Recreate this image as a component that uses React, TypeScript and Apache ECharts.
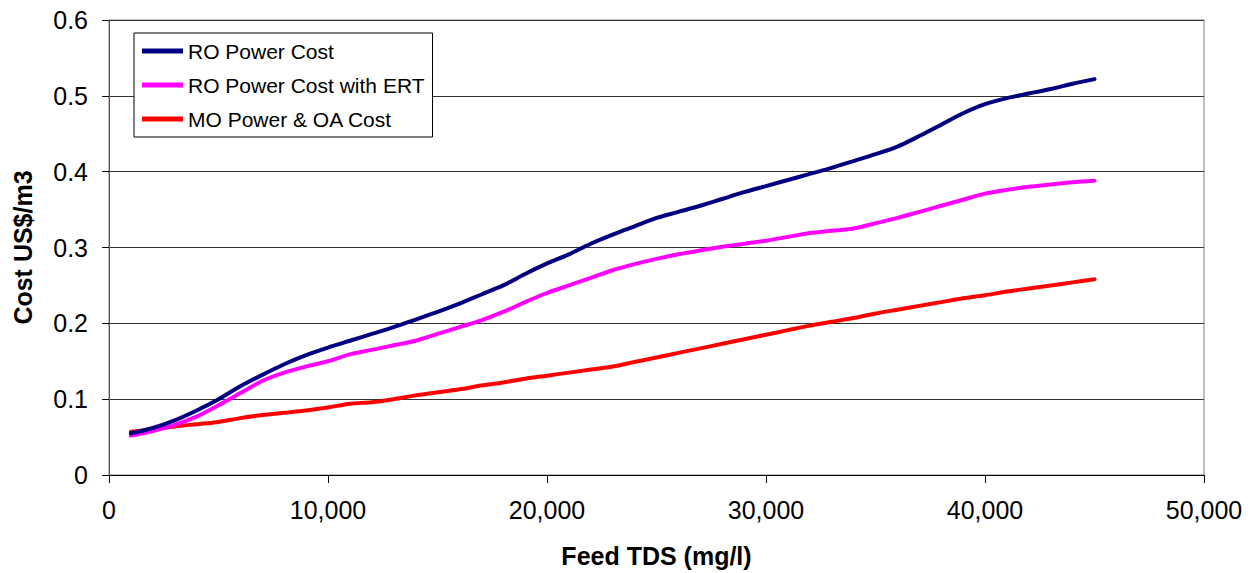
import React, { useEffect, useRef } from "react";
import * as echarts from "echarts";

const feedTds = [1000, 2000, 3000, 4000, 5000, 6000, 7000, 8000, 9000, 10000, 11000, 12000, 13000, 14000, 15000, 16000, 17000, 18000, 19000, 20000, 21000, 22000, 23000, 24000, 25000, 26000, 27000, 28000, 29000, 30000, 31000, 32000, 33000, 34000, 35000, 36000, 37000, 38000, 39000, 40000, 41000, 42000, 43000, 44000, 45000];

const roPowerCost = [0.055, 0.062, 0.072, 0.085, 0.1, 0.117, 0.132, 0.146, 0.158, 0.168, 0.177, 0.186, 0.195, 0.205, 0.215, 0.226, 0.238, 0.25, 0.265, 0.279, 0.291, 0.305, 0.317, 0.328, 0.339, 0.347, 0.355, 0.364, 0.373, 0.381, 0.389, 0.397, 0.405, 0.414, 0.423, 0.433, 0.447, 0.462, 0.477, 0.489, 0.497, 0.503, 0.509, 0.516, 0.522];

const roPowerCostErt = [0.052, 0.058, 0.066, 0.077, 0.092, 0.108, 0.124, 0.135, 0.143, 0.15, 0.159, 0.165, 0.171, 0.177, 0.186, 0.195, 0.204, 0.215, 0.228, 0.24, 0.25, 0.26, 0.27, 0.278, 0.285, 0.291, 0.296, 0.301, 0.305, 0.309, 0.314, 0.319, 0.322, 0.325, 0.332, 0.339, 0.347, 0.355, 0.363, 0.371, 0.376, 0.38, 0.383, 0.386, 0.388];

const moPowerOaCost = [0.057, 0.06, 0.064, 0.067, 0.07, 0.075, 0.079, 0.082, 0.085, 0.089, 0.094, 0.096, 0.1, 0.105, 0.109, 0.113, 0.118, 0.122, 0.127, 0.131, 0.135, 0.139, 0.143, 0.149, 0.155, 0.161, 0.167, 0.173, 0.179, 0.185, 0.191, 0.197, 0.202, 0.207, 0.213, 0.218, 0.223, 0.228, 0.233, 0.237, 0.242, 0.246, 0.25, 0.254, 0.258];

const seriesNames = ["RO Power Cost", "RO Power Cost with ERT", "MO Power & OA Cost"];
const seriesColors = ["#000080", "#FF00FF", "#FF0000"];

const FONT = "'Liberation Sans', Arial, sans-serif";

export default function App() {
  const ref = useRef<HTMLDivElement>(null);
  useEffect(() => {
    if (!ref.current) return;
    const chart = echarts.init(ref.current, null, { renderer: "svg" });
    const datasets = [roPowerCost, roPowerCostErt, moPowerOaCost];
    chart.setOption({
      animation: false,
      backgroundColor: "#ffffff",
      textStyle: { fontFamily: FONT },
      grid: {
        left: 109,
        right: 47,
        top: 20,
        bottom: 97,
        show: true,
        borderColor: "#808080",
        borderWidth: 1,
        backgroundColor: "transparent",
      },
      legend: {
        left: 134,
        top: 33,
        orient: "vertical",
        data: seriesNames.map((n) => ({ name: n })),
        icon: "rect",
        itemWidth: 41,
        itemHeight: 5,
        itemGap: 12,
        padding: [7, 8, 7, 8],
        borderColor: "#000",
        borderWidth: 1,
        backgroundColor: "#fff",
        textStyle: { fontFamily: FONT, fontSize: 21, color: "#000", lineHeight: 22, padding: [0, 0, 0, 0] },
        itemStyle: { borderWidth: 0 },
      },
      xAxis: {
        type: "value",
        min: 0,
        max: 50000,
        interval: 10000,
        name: "Feed TDS (mg/l)",
        nameLocation: "middle",
        nameGap: 68,
        nameTextStyle: { fontFamily: FONT, fontSize: 25, fontWeight: "bold", color: "#000" },
        axisLine: { show: true, lineStyle: { color: "#000", width: 1 } },
        axisTick: { show: true, inside: false, length: 8, lineStyle: { color: "#000" } },
        axisLabel: {
          fontFamily: FONT,
          fontSize: 25,
          color: "#000",
          margin: 22,
          formatter: (v: number) => v.toLocaleString("en-US"),
        },
        splitLine: { show: false },
      },
      yAxis: {
        type: "value",
        min: 0,
        max: 0.6,
        interval: 0.1,
        name: "Cost US$/m3",
        nameLocation: "middle",
        nameRotate: 90,
        nameGap: 74,
        nameTextStyle: { fontFamily: FONT, fontSize: 25, fontWeight: "bold", color: "#000" },
        axisLine: { show: true, lineStyle: { color: "#555", width: 1 } },
        axisTick: { show: true, inside: false, length: 7, lineStyle: { color: "#000" } },
        axisLabel: {
          fontFamily: FONT,
          fontSize: 25,
          color: "#000",
          margin: 21,
          formatter: (v: number) => String(Math.round(v * 10) / 10),
        },
        splitLine: { show: true, lineStyle: { color: "#333", width: 1 } },
      },
      series: seriesNames.map((name, i) => ({
        name,
        type: "line",
        data: feedTds.map((x, j) => [x, datasets[i][j]]),
        showSymbol: false,
        symbol: "none",
        smooth: 0.3,
        lineStyle: { color: seriesColors[i], width: 4, cap: "round" },
        itemStyle: { color: seriesColors[i] },
        z: 10 - i,
      })),
    });
    return () => chart.dispose();
  }, []);
  return (
    <div
      ref={ref}
      style={{ position: "fixed", left: 0, top: 0, width: 1251, height: 573 }}
    />
  );
}
